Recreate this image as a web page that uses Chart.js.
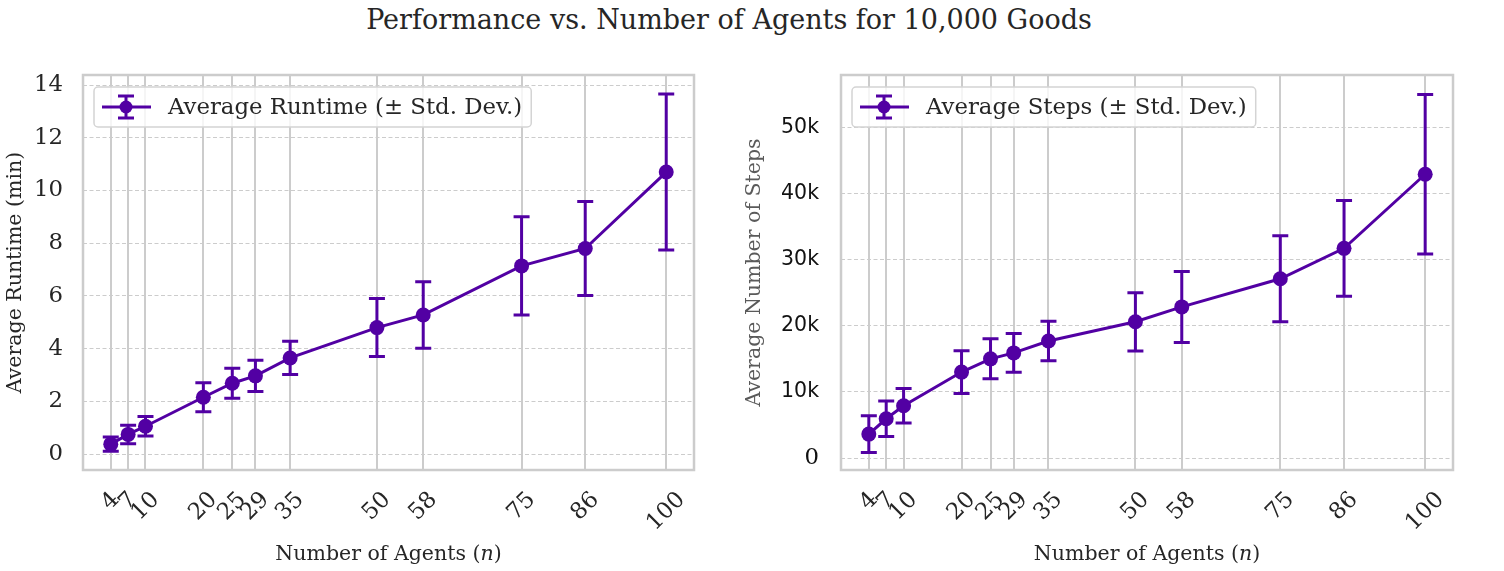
<!DOCTYPE html>
<html>
<head>
<meta charset="utf-8">
<script src="https://cdn.jsdelivr.net/npm/chart.js@4.4.0/dist/chart.umd.min.js"></script>
<style>
  html, body { margin: 0; padding: 0; background: #fff; }
  body { width: 1504px; height: 571px; position: relative; overflow: hidden; font-family: 'DejaVu Serif', serif; }
  #title { position: absolute; left: 0; top: 4px; width: 1458px; text-align: center; font-size: 27px; color: #262626; }
  .panel { position: absolute; top: 0; height: 571px; }
</style>
</head>
<body>
<div id="title">Performance vs. Number of Agents for 10,000 Goods</div>
<div class="panel" style="left:0; width:752px"><canvas id="runtimeChart" width="752" height="571"></canvas></div>
<div class="panel" style="left:740px; width:764px"><canvas id="stepsChart" width="764" height="571"></canvas></div>
<script>
// data
const agents = [4, 7, 10, 20, 25, 29, 35, 50, 58, 75, 86, 100];
const runtimeMean = [0.38, 0.75, 1.06, 2.16, 2.69, 2.97, 3.65, 4.8, 5.28, 7.14, 7.8, 10.7];
const runtimeStd = [0.27, 0.35, 0.37, 0.55, 0.57, 0.59, 0.63, 1.1, 1.26, 1.86, 1.78, 2.96];
const stepsMean = [3630, 5940, 7900, 13000, 15000, 15900, 17700, 20600, 22850, 27100, 31700, 42900];
const stepsStd = [2770, 2670, 2600, 3220, 3020, 2920, 2990, 4400, 5370, 6500, 7250, 12060];
const runtimeTicks = [0, 2, 4, 6, 8, 10, 12, 14];
const stepsTicks = [0, 10000, 20000, 30000, 40000, 50000];

const PURPLE = '#5200a3';
const TEXT = '#262626';
const GRID = '#cccccc';
const SERIF = 'DejaVu Serif';
const TICK_SIZE = 22.8;
const LABEL_SIZE = 20.5;

// box round the plot area
const framePlugin = {
    id: 'frame',
    beforeDatasetsDraw(chart) {
        const { ctx, chartArea: a } = chart;
        ctx.save();
        ctx.strokeStyle = GRID;
        ctx.lineWidth = 2.5;
        ctx.strokeRect(a.left, a.top, a.right - a.left, a.bottom - a.top);
        ctx.restore();
    }
};

// vertical error bars with caps
const errorBarPlugin = {
    id: 'errorBars',
    beforeDatasetsDraw(chart, args, opts) {
        const { ctx, scales: { x, y } } = chart;
        const mean = opts.mean, sd = opts.sd;
        ctx.save();
        ctx.strokeStyle = PURPLE;
        ctx.lineWidth = 3;
        agents.forEach((a, i) => {
            const px = x.getPixelForValue(a);
            const top = y.getPixelForValue(mean[i] + sd[i]);
            const bot = y.getPixelForValue(mean[i] - sd[i]);
            ctx.beginPath();
            ctx.moveTo(px, top); ctx.lineTo(px, bot);
            ctx.moveTo(px - 8, top); ctx.lineTo(px + 8, top);
            ctx.moveTo(px - 8, bot); ctx.lineTo(px + 8, bot);
            ctx.stroke();
        });
        ctx.restore();
    }
};

// rotated x tick labels (centred like matplotlib) and the x axis title
const xAxisPlugin = {
    id: 'xAxisText',
    afterDraw(chart) {
        const { ctx, chartArea: a, scales: { x } } = chart;
        ctx.save();
        ctx.fillStyle = TEXT;
        ctx.font = `${TICK_SIZE}px "${SERIF}"`;
        const h = TICK_SIZE * 1.16;
        x.ticks.forEach(t => {
            const s = String(t.value);
            const side = (ctx.measureText(s).width + h) * Math.SQRT1_2;
            const cx = x.getPixelForValue(t.value);
            const cy = a.bottom + 17 + side / 2;
            ctx.save();
            ctx.translate(cx, cy);
            ctx.rotate(-Math.PI / 4);
            ctx.textAlign = 'center';
            ctx.textBaseline = 'middle';
            ctx.fillText(s, 0, 0);
            ctx.restore();
        });

        // "Number of Agents (n)" with italic n
        const reg = `${LABEL_SIZE}px "${SERIF}"`, ital = `italic ${LABEL_SIZE}px "${SERIF}"`;
        const parts = [['Number of Agents (', reg], ['n', ital], [')', reg]];
        let total = 0;
        parts.forEach(p => { ctx.font = p[1]; total += ctx.measureText(p[0]).width; });
        let px = (a.left + a.right) / 2 - total / 2;
        ctx.textBaseline = 'middle';
        ctx.textAlign = 'left';
        parts.forEach(p => {
            ctx.font = p[1];
            ctx.fillText(p[0], px, 555);
            px += ctx.measureText(p[0]).width;
        });
        ctx.restore();
    }
};

// legend box with an errorbar glyph
const legendPlugin = {
    id: 'errLegend',
    afterDraw(chart) {
        const { ctx, chartArea: a } = chart;
        const label = chart.data.datasets[0].label;
        ctx.save();
        ctx.font = `${TICK_SIZE}px "${SERIF}"`;
        const tw = ctx.measureText(label).width;
        const bx = a.left + 11, by = a.top + 12, bw = 74 + tw + 9, bh = 40;
        ctx.beginPath();
        ctx.roundRect(bx, by, bw, bh, 4);
        ctx.fillStyle = 'rgba(255,255,255,0.8)';
        ctx.fill();
        ctx.strokeStyle = '#d4d4d4';
        ctx.lineWidth = 1.5;
        ctx.stroke();

        const cy = by + bh / 2, cx = bx + 32;
        ctx.strokeStyle = PURPLE;
        ctx.lineWidth = 3;
        ctx.beginPath();
        ctx.moveTo(bx + 8, cy); ctx.lineTo(bx + 57, cy);
        ctx.moveTo(cx, cy - 11); ctx.lineTo(cx, cy + 11);
        ctx.moveTo(cx - 8, cy - 11); ctx.lineTo(cx + 8, cy - 11);
        ctx.moveTo(cx - 8, cy + 11); ctx.lineTo(cx + 8, cy + 11);
        ctx.stroke();
        ctx.beginPath();
        ctx.arc(cx, cy, 6.5, 0, Math.PI * 2);
        ctx.fillStyle = PURPLE;
        ctx.fill();

        ctx.fillStyle = TEXT;
        ctx.textBaseline = 'middle';
        ctx.fillText(label, bx + 74, cy + 1);
        ctx.restore();
    }
};

function renderErrorChart(canvasId, cfg) {
    const canvas = document.getElementById(canvasId);
    if (!canvas) return null;
    const ctx = canvas.getContext('2d');

    return new Chart(ctx, {
        type: 'line',
        data: {
            datasets: [{
                label: cfg.label,
                data: agents.map((a, i) => ({ x: a, y: cfg.mean[i] })),
                borderColor: PURPLE,
                backgroundColor: PURPLE,
                borderWidth: 3,
                pointRadius: 7.5,
                pointBorderWidth: 0,
                pointBackgroundColor: PURPLE,
                tension: 0
            }]
        },
        options: {
            responsive: false,
            animation: false,
            layout: { padding: { top: 75, right: cfg.padRight, left: 0, bottom: 0 } },
            plugins: {
                legend: { display: false },
                tooltip: { enabled: false },
                errorBars: { mean: cfg.mean, sd: cfg.sd }
            },
            scales: {
                x: {
                    type: 'linear',
                    min: -0.8,
                    max: 104.8,
                    afterBuildTicks: s => { s.ticks = agents.map(v => ({ value: v })); },
                    afterFit: s => { s.height = 101; },
                    grid: { color: GRID, lineWidth: 2, drawTicks: false },
                    border: { display: false },
                    ticks: { display: false }
                },
                y: {
                    type: 'linear',
                    min: cfg.yMin,
                    max: cfg.yMax,
                    afterBuildTicks: s => { s.ticks = cfg.yTicks.map(v => ({ value: v })); },
                    afterFit: s => { s.width = cfg.yWidth; },
                    grid: { color: GRID, lineWidth: 1, drawTicks: false },
                    border: { display: false, dash: [4, 2.5] },
                    ticks: {
                        padding: cfg.tickPad,
                        color: cfg.tickColor,
                        font: cfg.tickFont,
                        callback: cfg.tickFormat
                    },
                    title: {
                        display: true,
                        text: cfg.yTitle,
                        color: cfg.yTitleColor,
                        font: { family: SERIF, size: LABEL_SIZE },
                        padding: { top: cfg.titlePad, bottom: 0 }
                    }
                }
            }
        },
        plugins: [framePlugin, errorBarPlugin, xAxisPlugin, legendPlugin]
    });
}

renderErrorChart('runtimeChart', {
    label: 'Average Runtime (\u00b1 Std. Dev.)',
    mean: runtimeMean,
    sd: runtimeStd,
    yTicks: runtimeTicks,
    yMin: -0.6,
    yMax: 14.38,
    yWidth: 83,
    padRight: 58,
    tickPad: 20,
    tickColor: TEXT,
    tickFont: { family: SERIF, size: TICK_SIZE },
    tickFormat: v => String(v),
    yTitle: 'Average Runtime (min)',
    yTitleColor: TEXT,
    titlePad: 3
});

renderErrorChart('stepsChart', {
    label: 'Average Steps (\u00b1 Std. Dev.)',
    mean: stepsMean,
    sd: stepsStd,
    yTicks: stepsTicks,
    yMin: -1800,
    yMax: 57900,
    yWidth: 101,
    padRight: 51,
    tickPad: 22,
    tickColor: '#111111',
    tickFont: c => (c.tick && c.tick.value === 0)
        ? { family: SERIF, size: TICK_SIZE }
        : { family: 'DejaVu Sans', size: 20.5 },
    tickFormat: v => v === 0 ? '0' : (v / 1000) + 'k',
    yTitle: 'Average Number of Steps',
    yTitleColor: '#5a5a5a',
    titlePad: 2
});
</script>
</body>
</html>
